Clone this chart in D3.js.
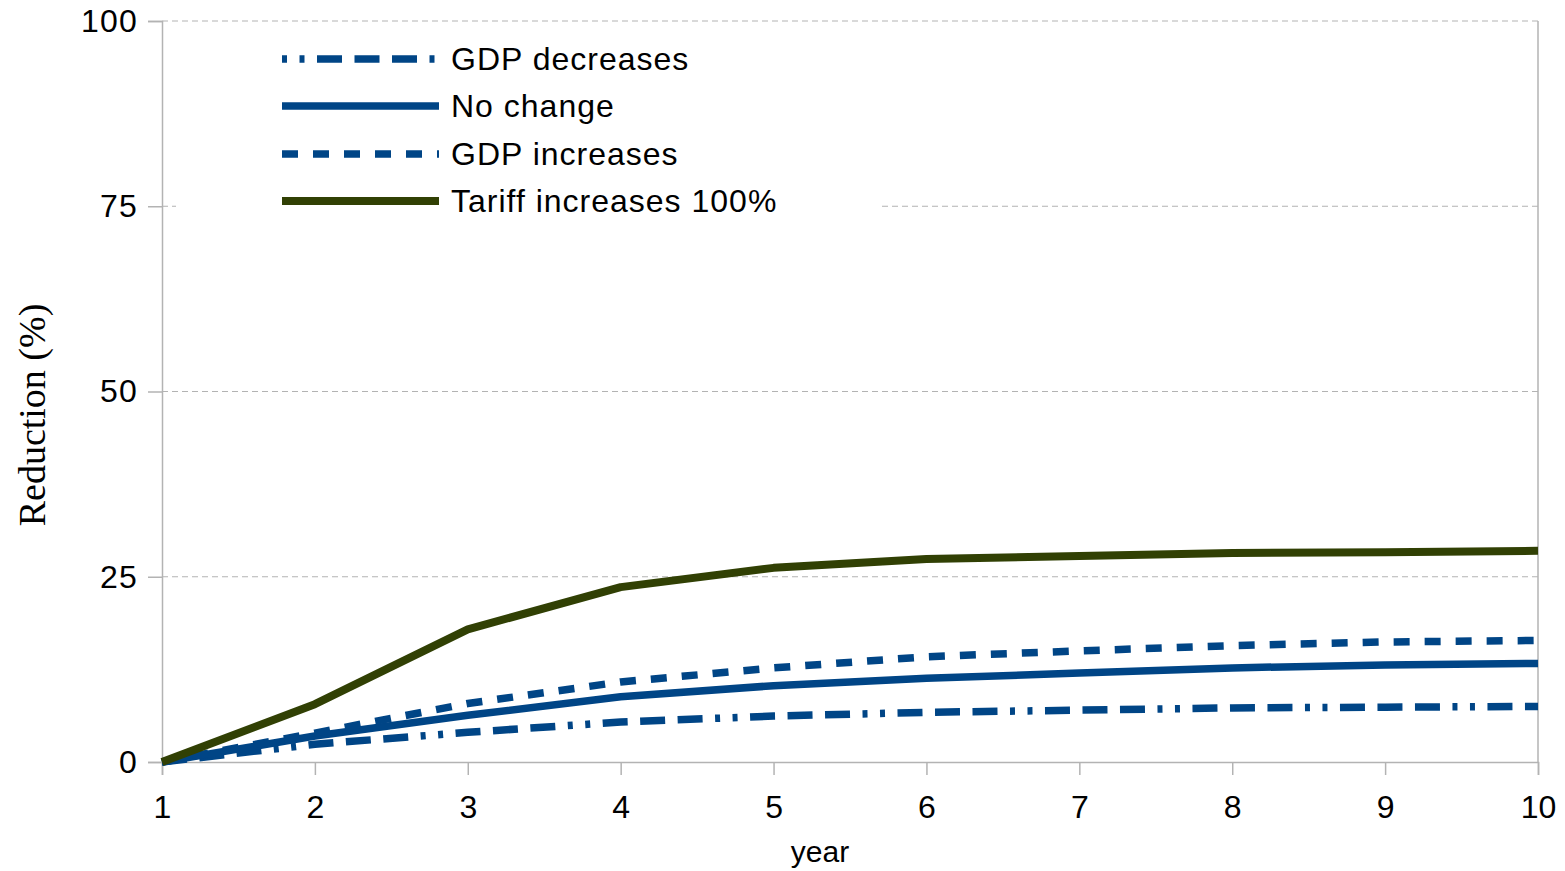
<!DOCTYPE html>
<html>
<head>
<meta charset="utf-8">
<script src="https://cdn.jsdelivr.net/npm/d3@7"></script>
<style>
  html, body { margin: 0; padding: 0; background: #fff; }
  svg { display: block; }
</style>
</head>
<body>
<svg id="chart" width="1565" height="871"></svg>
<script>
const years = [1, 2, 3, 4, 5, 6, 7, 8, 9, 10];
const gdpDecreases = [0, 2.4, 4.0, 5.4, 6.2, 6.7, 7.0, 7.3, 7.4, 7.5];
const noChange = [0, 3.5, 6.3, 8.8, 10.3, 11.3, 12.0, 12.7, 13.1, 13.3];
const gdpIncreases = [0, 3.9, 7.9, 10.8, 12.7, 14.2, 15.0, 15.7, 16.2, 16.4];
const tariff100 = [0, 7.8, 17.9, 23.6, 26.2, 27.4, 27.8, 28.2, 28.3, 28.5];
const yTicks = [0, 25, 50, 75, 100];
const seriesNames = ["GDP decreases", "No change", "GDP increases", "Tariff increases 100%"];

const blue = "#004586", olive = "#314004";
const series = [
  { name: seriesNames[0], values: gdpDecreases, color: blue, dash: "25,12.5,25,12.5,25,12.5,5,12.5,5,12.5", width: 7.5 },
  { name: seriesNames[1], values: noChange, color: blue, dash: null, width: 7.5 },
  { name: seriesNames[2], values: gdpIncreases, color: blue, dash: "16,15", width: 7.5 },
  { name: seriesNames[3], values: tariff100, color: olive, dash: null, width: 8 }
];

const svg = d3.select("#chart");
const x = d3.scaleLinear().domain([1, 10]).range([162, 1538]);
const y = d3.scaleLinear().domain([0, 100]).range([762, 21]);
const grid = "#b3b3b3";
const sans = "Liberation Sans, Arial, sans-serif";

// gridlines
svg.append("g").selectAll("line").data(yTicks.filter(d => d > 0)).join("line")
  .attr("x1", x(1)).attr("x2", x(10))
  .attr("y1", d => y(d)).attr("y2", d => y(d))
  .attr("stroke", grid).attr("stroke-width", 1).attr("stroke-dasharray", "6,4");

// right border
svg.append("line").attr("x1", x(10)).attr("x2", x(10)).attr("y1", y(100)).attr("y2", y(0))
  .attr("stroke", grid).attr("stroke-width", 1.5);

// y axis
const yAxis = d3.axisLeft(y).tickValues(yTicks).tickSize(14).tickPadding(10).tickFormat(d3.format("d"));
const yg = svg.append("g").attr("transform", `translate(${x(1)},0)`).call(yAxis);
yg.select(".domain").attr("stroke", grid).attr("stroke-width", 1.5);
yg.selectAll(".tick line").attr("stroke", grid).attr("stroke-width", 1.5);
yg.selectAll("text").attr("font-family", sans).attr("font-size", 32).attr("letter-spacing", 1.2).attr("fill", "#000");

// x axis
const xAxis = d3.axisBottom(x).tickValues(years).tickSize(13).tickPadding(20).tickFormat(d3.format("d"));
const xg = svg.append("g").attr("transform", `translate(0,${y(0)})`).call(xAxis);
xg.select(".domain").attr("stroke", grid).attr("stroke-width", 1.5);
xg.selectAll(".tick line").attr("stroke", grid).attr("stroke-width", 1.5);
xg.selectAll("text").attr("font-family", sans).attr("font-size", 32).attr("fill", "#000");

// axis titles
svg.append("text").attr("x", 820).attr("y", 862).attr("text-anchor", "middle")
  .attr("font-family", sans).attr("font-size", 30).text("year");
svg.append("text").attr("transform", "translate(45,415) rotate(-90)").attr("text-anchor", "middle")
  .attr("font-family", "Liberation Serif, Times New Roman, serif").attr("font-size", 38).text("Reduction (%)");

// lines
const line = d3.line().x((d, i) => x(years[i])).y(d => y(d));
svg.append("g").selectAll("path").data(series).join("path")
  .attr("d", d => line(d.values))
  .attr("fill", "none")
  .attr("stroke", d => d.color)
  .attr("stroke-width", d => d.width)
  .attr("stroke-dasharray", d => d.dash)
  .attr("stroke-linejoin", "round")
  .attr("stroke-linecap", "butt");

// legend
const lg = svg.append("g");
lg.append("rect").attr("x", 176).attr("y", 32).attr("width", 706).attr("height", 196).attr("fill", "#fff");
const rowY = [59, 106, 154, 201];
const items = lg.selectAll("g.item").data(series).join("g").attr("class", "item")
  .attr("transform", (d, i) => `translate(0,${rowY[i]})`);
items.append("line").attr("x1", 282).attr("x2", 439).attr("y1", 0).attr("y2", 0)
  .attr("stroke", d => d.color).attr("stroke-width", d => d.width)
  .attr("stroke-dasharray", (d, i) => i === 0 ? "5,12.5,5,12.5,25,12.5,25,12.5,25,12.5,5" : d.dash);
items.append("text").attr("x", 451).attr("y", 0).attr("dy", "0.35em")
  .attr("font-family", sans).attr("font-size", 32).attr("letter-spacing", 1).text(d => d.name);
</script>
</body>
</html>
